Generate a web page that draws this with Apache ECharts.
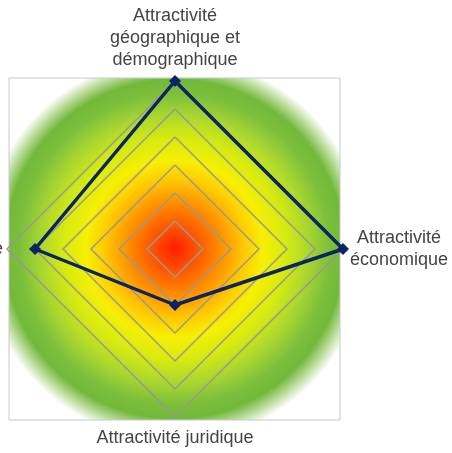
<!DOCTYPE html>
<html lang="fr">
<head>
    <meta charset="UTF-8">
    <title>Attractivité</title>
    <script src="https://cdn.jsdelivr.net/npm/echarts@6/dist/echarts.min.js"></script>
    <style>
        html, body { margin: 0; padding: 0; background: #fff; }
        #main { width: 452px; height: 453px; }
    </style>
</head>
<body>
<div id="main"></div>
<script>
    // axes du radar (ordre : haut, gauche, bas, droite)
    const indicators = [
        'Attractivité\ngéographique et\ndémographique',
        'Attractivité fiscale',
        'Attractivité juridique',
        'Attractivité\néconomique'
    ];
    const maxValue = 6;
    const scores = [6, 5, 2, 6];

    // mise en page
    const cx = 175, cy = 249, r = 168;
    const font = { color: '#444', fontFamily: 'Liberation Sans, Arial, sans-serif', fontSize: 18, lineHeight: 22 };

    // écart propre à chaque libellé (le libellé de gauche est collé au bord)
    function nameFormatter(name) {
        const i = indicators.indexOf(name);
        if (i === 0) return name + '\n{s| }';
        if (i === 2) return '{s| }\n' + name;
        if (i === 3) return name.split('\n').map(l => '{r|' + l + '}').join('\n');
        return name;
    }

    let myChart = echarts.init(document.getElementById('main'));
    let option = {
        animation: false,
        graphic: [
            {
                type: 'rect',
                z: -10,
                silent: true,
                shape: { x: 9, y: 78, width: 331, height: 342 },
                style: {
                    stroke: '#c8c8c8',
                    lineWidth: 1,
                    fill: new echarts.graphic.RadialGradient(0.5, 0.5, 0.58, [
                        { offset: 0, color: '#ff1e00' },
                        { offset: 0.13, color: '#ff5a00' },
                        { offset: 0.27, color: '#ff9c00' },
                        { offset: 0.36, color: '#ffc800' },
                        { offset: 0.46, color: '#f6f000' },
                        { offset: 0.58, color: '#d6ea12' },
                        { offset: 0.70, color: '#a8d630' },
                        { offset: 0.80, color: '#7ec03c' },
                        { offset: 0.88, color: '#72b83a' },
                        { offset: 0.94, color: '#b8dc98' },
                        { offset: 1, color: '#ffffff' }
                    ])
                }
            }
        ],
        radar: {
            center: [cx, cy],
            radius: r,
            startAngle: 90,
            shape: 'polygon',
            splitNumber: 6,
            nameGap: 4,
            axisName: Object.assign({}, font, {
                formatter: nameFormatter,
                rich: {
                    s: { fontSize: 1, lineHeight: 6 },
                    r: Object.assign({}, font, { width: 104, align: 'center' })
                }
            }),
            indicator: indicators.map(name => ({ name: name, max: maxValue })),
            splitLine: { lineStyle: { color: '#9a9a8a', width: 1.5 } },
            splitArea: { show: false },
            axisLine: { show: false }
        },
        series: [
            {
                type: 'radar',
                symbol: 'diamond',
                symbolSize: 12,
                lineStyle: { color: '#0b2463', width: 3.5 },
                itemStyle: { color: '#0b2463' },
                data: [{ value: scores }]
            }
        ]
    };
    myChart.setOption(option);
</script>
</body>
</html>
